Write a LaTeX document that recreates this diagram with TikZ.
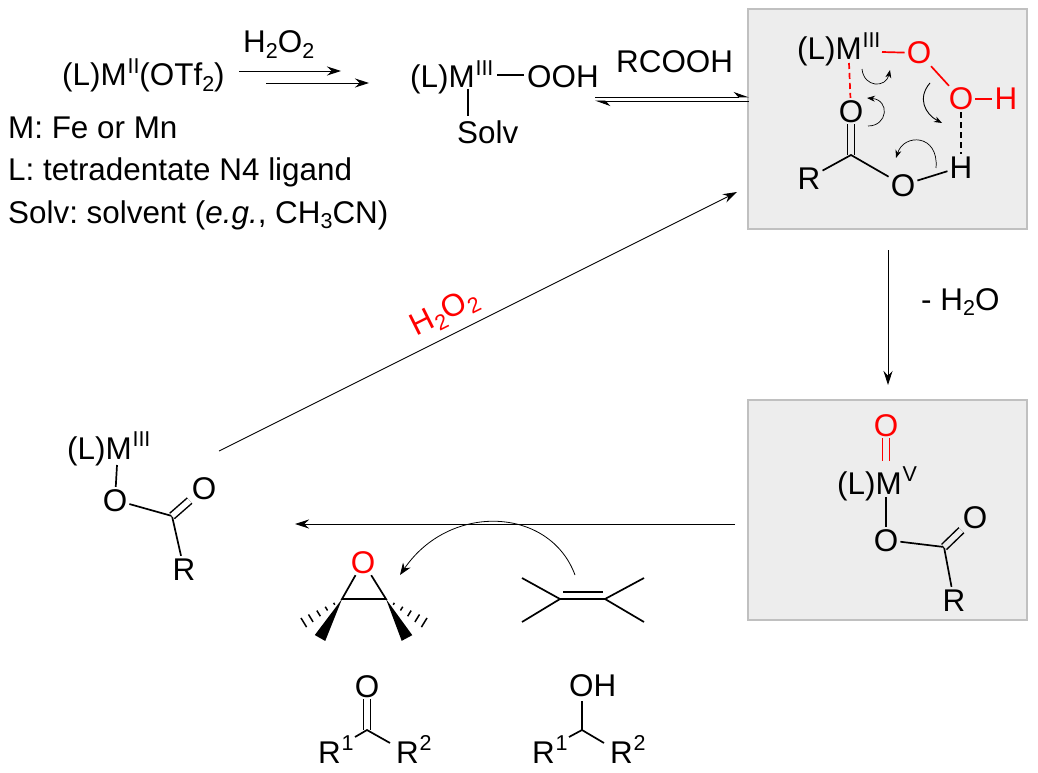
\documentclass[tikz,border=0pt]{standalone}
\usepackage{fontspec}
\setmainfont{Liberation Sans}
\usetikzlibrary{calc,arrows.meta}
\definecolor{boxfill}{RGB}{237,237,237}
\definecolor{boxline}{RGB}{192,192,192}
\newcommand{\sus}[1]{\raisebox{12.5pt}{\kern0.8pt\fontsize{21.5}{23}\selectfont #1}}
\newcommand{\sbs}[1]{\raisebox{-5.5pt}{\fontsize{21.5}{23}\selectfont #1}}
\frenchspacing

\begin{document}
\begin{tikzpicture}[x=1pt,y=-1pt,
  T/.style={font=\fontsize{31.4}{34}\selectfont,inner sep=0pt,anchor=base west},
  atom/.style={font=\fontsize{31.4}{34}\selectfont,inner sep=2pt,text height=22pt,text depth=0pt},
  bond/.style={line width=1.7pt},
  dbl/.style={line width=1.5pt,double distance=5.5pt},
  rxn/.style={line width=0.9pt,-{Stealth[length=14pt,width=9pt]}},
  eqm/.style={line width=0.9pt},
  push/.style={line width=0.7pt,-{Stealth[length=8pt,width=6pt]}},
  panel/.style={draw=boxline,fill=boxfill,line width=2pt}]
\path[use as bounding box,fill=white] (0,0) rectangle (1038,773);
% panels
\path[panel] (748,9) rectangle (1027,229);
\path[panel] (748,400) rectangle (1027,620);
% legend and first step
\node[T] (start) at (62,86) {(L)M\sus{II}(OTf\sbs{2})};
\node[T] (perox) at (243,53) {H\sbs{2}O\sbs{2}};
\node[T] (metal) at (8,139) {M: Fe or Mn};
\node[T] (ligand) at (8,180) {L: tetradentate N4 ligand};
\node[T] (solvent) at (8,223) {Solv: solvent (\textit{e.g.}, CH\sbs{3}CN)};
\coordinate (s1a) at (239,71); \coordinate (s1b) at (341,71);
\coordinate (s2a) at (266,83); \coordinate (s2b) at (369,83);
\draw[rxn] (s1a)--(s1b);
\draw[rxn] (s2a)--(s2b);
% hydroperoxo
\node[T] (mooh) at (410,88) {(L)M\sus{III}};
\node[T] (ooh) at (527,88) {OOH};
\node[T] (solv) at (457,143) {Solv};
\node[T] (acid) at (616,73) {RCOOH};
\coordinate (mb1) at (497,75); \coordinate (mb2) at (524,75);
\coordinate (mb3) at (468,89); \coordinate (mb4) at (468,116);
\draw[bond] (mb1)--(mb2);
\draw[bond] (mb3)--(mb4);
\coordinate (eq1) at (595,97); \coordinate (eq2) at (749,97);
\coordinate (eq3) at (749,101); \coordinate (eq4) at (595,101);
\draw[eqm,-{Stealth[harpoon,length=14pt,width=10pt]}] (eq1)--(eq2);
\draw[eqm,-{Stealth[harpoon,length=14pt,width=10pt]}] (eq3)--(eq4);
% top panel
\node[T] (ma) at (797,60) {(L)M\sus{III}};
\node[atom,red] (oa) at (919,53) {O};
\node[atom,red] (ob) at (961,99) {O};
\node[atom,red] (ha) at (1006,99) {H};
\node[atom] (hb) at (961,167) {H};
\node[atom] (oc) at (851,111) {O};
\node[atom] (od) at (903,185) {O};
\node[atom] (ra) at (809,178) {R};
\coordinate (ca) at (851,155);
\coordinate (mr) at (882,52); \coordinate (md) at (849,63);
\draw[bond,red] (mr)--(oa);
\draw[bond,red] (oa)--(ob);
\draw[bond,red] (ob)--(ha);
\draw[bond,red,dash pattern=on 6pt off 4pt] (md)--(oc);
\draw[bond,dash pattern=on 6pt off 4pt] (ob)--(hb);
\draw[dbl,double=boxfill] (oc)--(ca);
\draw[bond] (ra)--(ca)--(od);
\draw[bond] (od)--(hb);
\coordinate (pa1) at (862,69); \coordinate (pa2) at (890,70);
\coordinate (pb1) at (868,126); \coordinate (pb2) at (867,98);
\coordinate (pc1) at (930,83); \coordinate (pc2) at (942,123);
\coordinate (pd1) at (936,168); \coordinate (pd2) at (896,158);
\draw[push] (pa1) .. controls (864,88) and (886,88) .. (pa2);
\draw[push] (pb1) .. controls (888,126) and (890,100) .. (pb2);
\draw[push,line width=0.9pt] (pc1) .. controls (917,98) and (925,114) .. (pc2);
\draw[push] (pd1) .. controls (939,134) and (904,133) .. (pd2);
% lower panel
\node[atom,red] (oe) at (886,425) {O};
\node[T] (mb) at (837,494) {(L)M\sus{V}};
\node[atom] (of) at (886,540) {O};
\node[atom] (og) at (975,517) {O};
\node[atom] (rb) at (954,600) {R};
\coordinate (cb) at (944,547);
\coordinate (mt) at (886,461); \coordinate (mu) at (886,497);
\draw[dbl,red,double=boxfill] (oe)--(mt);
\draw[bond] (mu)--(of);
\draw[bond] (of)--(cb)--(rb);
\draw[dbl,double=boxfill] (cb)--(og);
% arrows of the cycle
\coordinate (v1) at (888,250); \coordinate (v2) at (888,385);
\draw[rxn] (v1)--(v2);
\node[T] (water) at (921,310) {- H\sbs{2}O};
\coordinate (h1) at (735,524); \coordinate (h2) at (295,524);
\draw[rxn] (h1)--(h2);
\coordinate (d1) at (219,451); \coordinate (d2) at (737,192);
\draw[rxn] (d1)--(d2);
\node[T,red,anchor=center,rotate=26.6] (perred) at (445,313) {H\sbs{2}O\sbs{2}};
% left complex
\node[T] (mc) at (67,459) {(L)M\sus{III}};
\node[atom] (oh) at (115,500) {O};
\node[atom] (oi) at (204,488) {O};
\node[atom] (rc) at (184,569) {R};
\coordinate (cc) at (172,516);
\coordinate (mv) at (117,465);
\draw[bond] (mv)--(oh);
\draw[bond] (oh)--(cc)--(rc);
\draw[dbl,double=white] (cc)--(oi);
% epoxide
\node[atom,red] (oj) at (363,562) {O};
\coordinate (el) at (342,599); \coordinate (er) at (386,599);
\draw[bond] (oj)--(el)--(er)--(oj);
\coordinate (wl) at (320,638); \coordinate (wr) at (407,638);
\coordinate (hl) at (303,623); \coordinate (hr) at (425,623);
\fill (el) -- ($(wl)!6pt!90:(el)$) -- ($(wl)!6pt!-90:(el)$) -- cycle;
\fill (er) -- ($(wr)!6pt!90:(er)$) -- ($(wr)!6pt!-90:(er)$) -- cycle;
\foreach \t [evaluate=\t as \w using 5.5*\t] in {0.2,0.4,0.6,0.8,0.98}{
  \draw[line width=1.5pt] ($(el)!\t!(hl)!\w pt!90:(hl)$)--($(el)!\t!(hl)!\w pt!-90:(hl)$);
  \draw[line width=1.5pt] ($(er)!\t!(hr)!\w pt!90:(hr)$)--($(er)!\t!(hr)!\w pt!-90:(hr)$);
}
% alkene
\coordinate (al) at (560,599); \coordinate (ar) at (605,599);
\coordinate (a1) at (522,578); \coordinate (a2) at (522,622);
\coordinate (a3) at (644,578); \coordinate (a4) at (644,622);
\coordinate (a5) at (563,592); \coordinate (a6) at (603,592);
\draw[bond] (a1)--(al)--(a2);
\draw[bond] (a3)--(ar)--(a4);
\draw[bond] (al)--(ar);
\draw[bond] (a5)--(a6);
\coordinate (c1) at (575,575); \coordinate (c2) at (400,575);
\draw[push,line width=0.8pt,-{Stealth[length=12pt,width=9pt]}] (c1) .. controls (550,507) and (450,502) .. (c2);
% ketone
\node[atom] (ok) at (367,686) {O};
\node[T] (r1) at (318,763) {R\sus{1}};
\node[T] (r2) at (396,763) {R\sus{2}};
\coordinate (ck) at (367,730);
\coordinate (k1) at (355,737); \coordinate (k2) at (390,743);
\draw[dbl,double=white] (ok)--(ck);
\draw[bond] (k1)--(ck)--(k2);
% alcohol
\node[T] (oh2) at (569,696) {OH};
\node[T] (r3) at (532,763) {R\sus{1}};
\node[T] (r4) at (610,763) {R\sus{2}};
\coordinate (co) at (582,730); \coordinate (oo) at (582,701);
\coordinate (o1) at (569,737); \coordinate (o2) at (604,743);
\draw[bond] (oo)--(co);
\draw[bond] (o1)--(co)--(o2);
\end{tikzpicture}
\end{document}
